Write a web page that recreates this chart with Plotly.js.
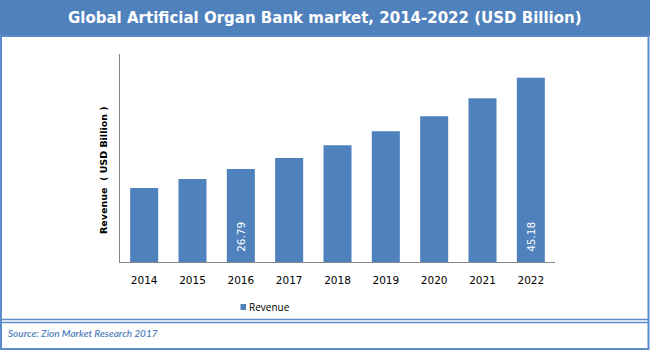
<!DOCTYPE html>
<html>
<head>
<meta charset="utf-8">
<script src="https://cdn.plot.ly/plotly-3.0.1.min.js"></script>
<style>html,body{margin:0;padding:0;background:#fff;}#chart{width:650px;height:350px;}</style>
</head>
<body>
<div id="chart"></div>
<script>
var years = ['2014','2015','2016','2017','2018','2019','2020','2021','2022'];
var revenue = [22.95, 24.77, 26.79, 29.01, 31.58, 34.41, 37.44, 41.08, 45.18];
var labelledYears = ['2016', '2022'];
var seriesName = 'Revenue';
var chartTitle = 'Global Artificial Organ Bank market, 2014-2022 (USD Billion)';
var yTitle = 'Revenue  ( USD Billion )';
var sourceText = 'Source: Zion Market Research 2017';
var yRange = [8, 50];

var W = 650, H = 350;
var L = 120, R = 555, T = 54, B = 262;
function px(x){ return (x - L) / (R - L); }
function py(y){ return (B - y) / (B - T); }
var blue = '#4F81BD';
var border = '#5B8BC9';

var trace = {
  type: 'bar',
  x: years,
  y: revenue,
  name: seriesName,
  marker: {color: blue},
  showlegend: false,
  hoverinfo: 'x+y'
};

var annotations = [
  {text: '<b>' + chartTitle + '</b>', xref: 'paper', yref: 'paper', x: px(325), y: py(18), xanchor: 'center', yanchor: 'middle', showarrow: false, font: {family: 'DejaVu Sans', size: 15, color: '#ffffff'}},
  {text: '<b>' + yTitle + '</b>', xref: 'paper', yref: 'paper', x: px(103), y: py(170), xanchor: 'center', yanchor: 'middle', textangle: -90, showarrow: false, font: {family: 'DejaVu Sans', size: 9.5, color: '#000000'}},
  {text: '<i>' + sourceText + '</i>', xref: 'paper', yref: 'paper', x: px(6), y: py(333), xanchor: 'left', yanchor: 'middle', showarrow: false, font: {family: 'Lato', size: 10, color: blue, weight: 600}},
  {text: seriesName, xref: 'paper', yref: 'paper', x: px(247), y: py(307), xanchor: 'left', yanchor: 'middle', showarrow: false, font: {family: 'Open Sans', size: 10, color: '#000000'}}
];
labelledYears.forEach(function(yr){
  var i = years.indexOf(yr);
  annotations.push({
    text: revenue[i].toFixed(2), xref: 'x', yref: 'y', x: i, y: yRange[0],
    xanchor: 'center', yanchor: 'bottom', yshift: 8, textangle: -90, showarrow: false,
    font: {family: 'DejaVu Sans', size: 10.5, color: '#ffffff'}
  });
});

var layout = {
  width: W, height: H,
  margin: {l: L, r: W - R, t: T, b: H - B, pad: 0},
  paper_bgcolor: '#ffffff',
  plot_bgcolor: '#ffffff',
  bargap: 0.42,
  showlegend: false,
  xaxis: {
    type: 'category',
    range: [-0.5, years.length - 0.5],
    showline: true, linecolor: '#868686', linewidth: 1,
    ticks: '', showgrid: false, zeroline: false,
    ticklabelstandoff: 8,
    tickfont: {family: 'DejaVu Sans', size: 10.5, color: '#000000'},
    fixedrange: true
  },
  yaxis: {
    range: yRange,
    showline: true, linecolor: '#868686', linewidth: 1,
    showticklabels: false, ticks: '', showgrid: false, zeroline: false,
    fixedrange: true
  },
  shapes: [
    {type: 'rect', xref: 'paper', yref: 'paper', x0: px(0), x1: px(650), y0: py(36), y1: py(0), fillcolor: blue, line: {width: 0}, layer: 'below'},
    {type: 'rect', xref: 'paper', yref: 'paper', x0: px(1), x1: px(648.5), y0: py(349), y1: py(36), fillcolor: 'rgba(0,0,0,0)', line: {color: border, width: 2}},
    {type: 'line', xref: 'paper', yref: 'paper', x0: px(1), x1: px(648.5), y0: py(319.5), y1: py(319.5), line: {color: border, width: 1.5}},
    {type: 'line', xref: 'paper', yref: 'paper', x0: px(1), x1: px(648.5), y0: py(322.5), y1: py(322.5), line: {color: border, width: 1.5}},
    {type: 'rect', xref: 'paper', yref: 'paper', x0: px(240.5), x1: px(246), y0: py(310), y1: py(304), fillcolor: blue, line: {width: 0}}
  ],
  annotations: annotations
};

Plotly.newPlot('chart', [trace], layout, {displayModeBar: false, staticPlot: true});
</script>
</body>
</html>
